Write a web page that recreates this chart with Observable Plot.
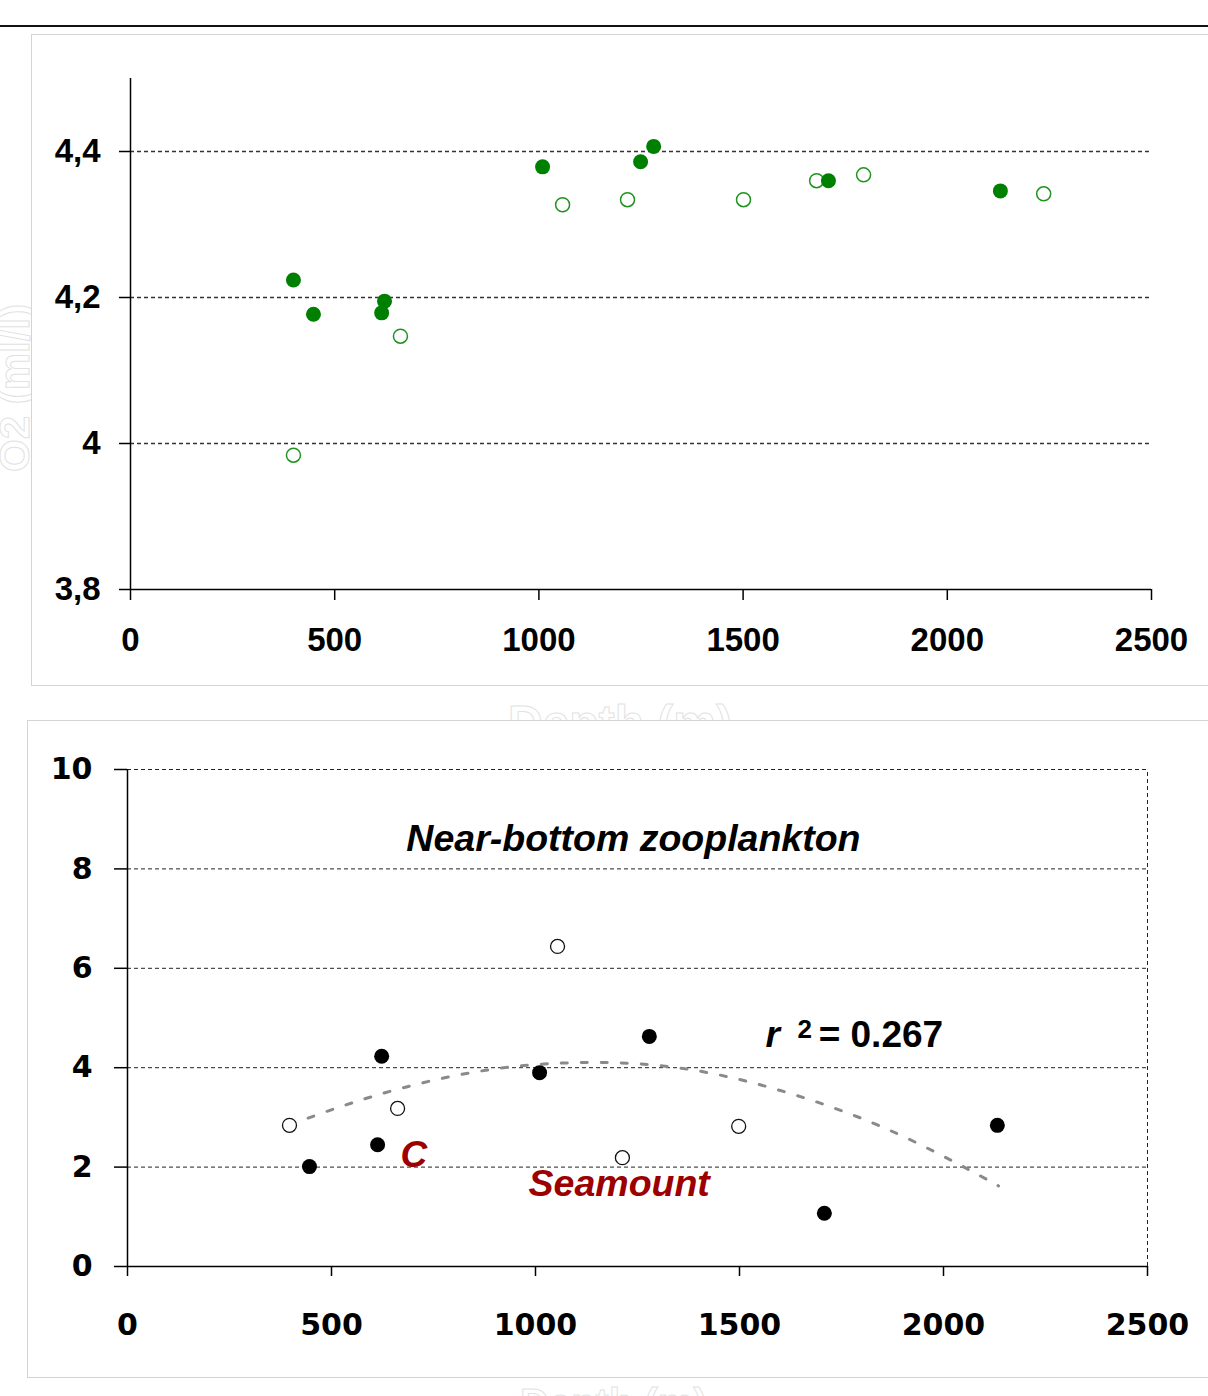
<!DOCTYPE html>
<html>
<head>
<meta charset="utf-8">
<script src="https://cdn.jsdelivr.net/npm/d3@7"></script>
<script src="https://cdn.jsdelivr.net/npm/@observablehq/plot@0.6"></script>
<style>
  html, body { margin: 0; padding: 0; background: #fff; overflow: hidden; }
  #page { position: relative; width: 1208px; height: 1396px; overflow: hidden; background: #fff; }
  .abs { position: absolute; }
  .top-rule { left: 0; top: 25px; width: 1208px; height: 2px; background: #111; }
  .frame { border: 1.5px solid #d4d4d4; background: #fff; box-sizing: border-box; }
  .ghost { font-family: "Liberation Sans", Arial, sans-serif; font-weight: bold; color: #fff;
           -webkit-text-stroke: 1px #e2e2e2; white-space: nowrap; line-height: 1; }
</style>
</head>
<body>
<div id="page"></div>
<script>
// ---- Dissolved oxygen near the bottom (upper panel) ----
const depthO2Filled = [399, 448, 615, 622, 1009, 1249, 1281, 1709, 2130];
const o2Filled      = [4.224, 4.177, 4.179, 4.195, 4.379, 4.386, 4.407, 4.360, 4.346];
const depthO2Open   = [399, 661, 1058, 1217, 1501, 1680, 1795, 2236];
const o2Open        = [3.984, 4.147, 4.327, 4.334, 4.334, 4.360, 4.368, 4.342];

// ---- Near-bottom zooplankton (lower panel) ----
const depthZooFilled = [446, 613, 623, 1010, 1279, 1708, 2132];
const zooFilled      = [2.01, 2.45, 4.23, 3.90, 4.63, 1.07, 2.84];
const depthZooOpen   = [397, 662, 1054, 1213, 1498];
const zooOpen        = [2.84, 3.18, 6.44, 2.19, 2.82];

// polynomial trend (r² = 0.267)
const trendDepth = [397, 604, 849, 1092, 1339, 1584, 1829, 2025, 2135];
const trendValue = [2.85, 3.43, 3.91, 4.10, 4.01, 3.58, 2.88, 2.11, 1.62];

// tick labels
const depthTicks = [0, 500, 1000, 1500, 2000, 2500];
const o2Ticks    = [3.8, 4.0, 4.2, 4.4];
const zooTicks   = [0, 2, 4, 6, 8, 10];

const rows = (xs, ys) => xs.map((d, i) => ({depth: d, value: ys[i]}));

const page = document.getElementById("page");
function place(el, left, top) {
  el.classList.add("abs");
  el.style.left = left + "px";
  el.style.top = top + "px";
  page.appendChild(el);
  return el;
}
function box(cls, left, top, w, h) {
  const d = document.createElement("div");
  d.className = cls;
  d.style.width = w + "px";
  d.style.height = h + "px";
  return place(d, left, top);
}
function ghost(text, left, top, size, rotate) {
  const d = document.createElement("div");
  d.className = "ghost";
  d.textContent = text;
  d.style.fontSize = size + "px";
  if (rotate) { d.style.transform = "rotate(-90deg)"; d.style.transformOrigin = "left top"; }
  return place(d, left, top);
}

box("top-rule", 0, 25, 1208, 2);
ghost("O2 (ml/l)", -6, 472, 42, true);
box("frame", 31, 34, 1200, 652);

const dash = {stroke: "#333", strokeWidth: 1.5, strokeDasharray: "4,3"};

const chartO2 = Plot.plot({
  width: 1208, height: 651,
  marginLeft: 130, marginRight: 57, marginTop: 43, marginBottom: 97,
  style: {fontFamily: "Liberation Sans, Arial, sans-serif", fontWeight: "bold", fontSize: "33px",
          color: "#000", background: "transparent", overflow: "visible"},
  x: {domain: [0, 2500]},
  y: {domain: [3.8, 4.5]},
  marks: [
    Plot.ruleY([4.0, 4.2, 4.4], {x1: 0, x2: 2495, ...dash}),
    Plot.axisY({ticks: o2Ticks, tickSize: 11, tickPadding: 19, label: null, strokeWidth: 1.5,
                tickFormat: d => String(d).replace(".", ",")}),
    Plot.axisX({ticks: depthTicks, tickSize: 11, tickPadding: 27, label: null, strokeWidth: 1.5,
                tickFormat: d => String(d)}),
    Plot.ruleX([0], {y1: 3.8, y2: 4.5, stroke: "#000", strokeWidth: 1.5}),
    Plot.ruleY([3.8], {x1: 0, x2: 2500, stroke: "#000", strokeWidth: 1.5}),
    Plot.dot(rows(depthO2Open, o2Open), {x: "depth", y: "value", r: 7, fill: "#fff", stroke: "#1f931f", strokeWidth: 1.5}),
    Plot.dot(rows(depthO2Filled, o2Filled), {x: "depth", y: "value", r: 7.5, fill: "#008000", stroke: "none"})
  ]
});
place(chartO2, 0, 35);

ghost("Depth (m)", 508, 699, 48, false);
ghost("Depth (m)", 520, 1383, 40, false);
box("frame", 27, 720, 1200, 658);

const dash2 = {stroke: "#222", strokeWidth: 1, strokeDasharray: "4,3"};
const red = "#9c0000";
const sans = "Liberation Sans, Arial, sans-serif";

const chartZoo = Plot.plot({
  width: 1208, height: 657,
  marginLeft: 127, marginRight: 61, marginTop: 48, marginBottom: 112,
  style: {fontFamily: "DejaVu Sans, sans-serif", fontWeight: "bold", fontSize: "30px",
          color: "#000", background: "transparent", overflow: "visible"},
  x: {domain: [0, 2500]},
  y: {domain: [0, 10]},
  marks: [
    Plot.ruleY([2, 4, 6, 8, 10], {x1: 0, x2: 2500, ...dash2}),
    Plot.ruleX([2500], {y1: 0, y2: 10, ...dash2}),
    Plot.line(rows(trendDepth, trendValue), {x: "depth", y: "value", curve: "natural",
              stroke: "#8a8a8a", strokeWidth: 3, strokeDasharray: "6,14"}),
    Plot.axisY({ticks: zooTicks, tickSize: 13, tickPadding: 22, label: null, strokeWidth: 1.5}),
    Plot.axisX({ticks: depthTicks, tickSize: 10, tickPadding: 37, label: null, strokeWidth: 1.5,
                tickFormat: d => String(d)}),
    Plot.ruleX([0], {y1: 0, y2: 10, stroke: "#000", strokeWidth: 1.5}),
    Plot.ruleY([0], {x1: 0, x2: 2500, stroke: "#000", strokeWidth: 1.5}),
    Plot.dot(rows(depthZooOpen, zooOpen), {x: "depth", y: "value", r: 7, fill: "#fff", stroke: "#111", strokeWidth: 1.3}),
    Plot.dot(rows(depthZooFilled, zooFilled), {x: "depth", y: "value", r: 7.5, fill: "#000", stroke: "none"}),
    Plot.text(["Near-bottom zooplankton"], {x: 1240, y: 8.6, textAnchor: "middle", lineAnchor: "middle",
              fontFamily: sans, fontSize: 37.5, fontWeight: "bold", fontStyle: "italic", fill: "#000"}),
    Plot.text(["r"], {x: 1564, y: 4.65, textAnchor: "start", lineAnchor: "middle",
              fontFamily: sans, fontSize: 37, fontWeight: "bold", fontStyle: "italic", fill: "#000"}),
    Plot.text(["2"], {x: 1642, y: 4.77, textAnchor: "start", lineAnchor: "middle",
              fontFamily: sans, fontSize: 26, fontWeight: "bold", fill: "#000"}),
    Plot.text(["= 0.267"], {x: 1694, y: 4.65, textAnchor: "start", lineAnchor: "middle",
              fontFamily: sans, fontSize: 37, fontWeight: "bold", fill: "#000"}),
    Plot.text(["C"], {x: 669, y: 2.25, textAnchor: "start", lineAnchor: "middle",
              fontFamily: sans, fontSize: 37, fontWeight: "bold", fontStyle: "italic", fill: red}),
    Plot.text(["Seamount"], {x: 983, y: 1.65, textAnchor: "start", lineAnchor: "middle",
              fontFamily: sans, fontSize: 37.5, fontWeight: "bold", fontStyle: "italic", fill: red})
  ]
});
place(chartZoo, 0, 721);
</script>
</body>
</html>
